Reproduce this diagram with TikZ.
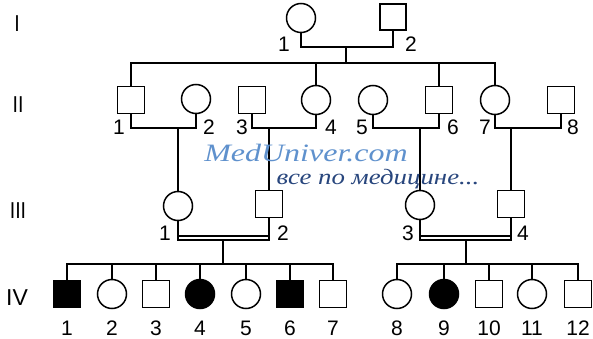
\documentclass[tikz,border=0pt]{standalone}
\usepackage{fontspec}
\usepackage{graphicx}
\setmainfont{Liberation Sans}
\newfontfamily\wmfont{Liberation Serif}
\definecolor{wmblue}{RGB}{95,145,205}
\definecolor{wmdark}{RGB}{40,70,125}
\begin{document}
\begin{tikzpicture}[x=1pt,y=-1pt,
  every path/.style={line width=1.5pt},
  male/.style={draw, rectangle, minimum size=27pt, inner sep=0pt, line width=1.5pt},
  female/.style={draw, circle, minimum size=29pt, inner sep=0pt, line width=1.5pt},
  aff/.style={fill=black},
  num/.style={inner sep=0pt, font=\fontsize{21}{21}\selectfont},
  gen/.style={inner sep=0pt, font=\fontsize{23}{23}\selectfont}]
\fill[white] (0,0) rectangle (593,339);
\useasboundingbox (0,0) rectangle (593,339);
% generation labels
\node[gen] (gI) at (17,24) {\scalebox{0.85}[1]{I}};
\node[gen] (gII) at (18,105) {\scalebox{0.85}[1]{II}};
\node[gen] (gIII) at (18,211) {\scalebox{0.85}[1]{III}};
\node[gen] (gIV) at (17,298) {IV};
% generation I
\node[female] (I1) at (301,18) {};
\node[male, minimum size=26pt] (I2) at (393,17) {};
\node[num] (lI1) at (284,44) {1};
\node[num] (lI2) at (411,44) {2};
% generation II
\node[male] (II1) at (131,100) {};
\node[female] (II2) at (196,99) {};
\node[male] (II3) at (252,100) {};
\node[female] (II4) at (316,100) {};
\node[female] (II5) at (373,100) {};
\node[male] (II6) at (439,100) {};
\node[female] (II7) at (495,100) {};
\node[male] (II8) at (561,100) {};
\node[num] (lII1) at (119,127) {1};
\node[num] (lII2) at (209,127) {2};
\node[num] (lII3) at (242,127) {3};
\node[num] (lII4) at (331,127) {4};
\node[num] (lII5) at (362,127) {5};
\node[num] (lII6) at (453,127) {6};
\node[num] (lII7) at (485,127) {7};
\node[num] (lII8) at (573,127) {8};
% generation III
\node[female] (III1) at (178,206) {};
\node[male] (III2) at (269,204) {};
\node[female] (III3) at (420,205) {};
\node[male] (III4) at (511,204) {};
\node[num] (lIII1) at (165,233) {1};
\node[num] (lIII2) at (283,233) {2};
\node[num] (lIII3) at (408,233) {3};
\node[num] (lIII4) at (523,233) {4};
% generation IV
\node[male, aff] (IV1) at (67,294) {};
\node[female] (IV2) at (112,294) {};
\node[male] (IV3) at (156,294) {};
\node[female, aff] (IV4) at (200,294) {};
\node[female] (IV5) at (246,294) {};
\node[male, aff] (IV6) at (290,294) {};
\node[male] (IV7) at (333,294) {};
\node[female] (IV8) at (397,294) {};
\node[female, aff] (IV9) at (444,294) {};
\node[male] (IV10) at (489,294) {};
\node[female] (IV11) at (532,294) {};
\node[male] (IV12) at (578,294) {};
\foreach \i/\x in {1/67,2/112,3/156,4/200,5/246,6/290,7/333,8/397,9/444,10/489,11/532,12/578}
  \node[num] (lIV\i) at (\x,328) {\i};
% connectors generation I
\coordinate (c1) at (346,47);
\coordinate (s2) at (346,63);
\draw (I1.south) |- (c1) -| (I2.south);
\draw (c1) -- (s2);
\draw (II1.north) -- (II1.north |- s2) -- (II7.north |- s2) -- (II7.north);
\draw (II4.north) -- (II4.north |- s2);
\draw (II6.north) -- (II6.north |- s2);
% couples generation II
\coordinate (c21) at (178,128);
\coordinate (c22) at (269,128);
\coordinate (c23) at (420,128);
\coordinate (c24) at (511,128);
\draw (II1.south) |- (c21) -| (II2.south);
\draw (c21) -- (III1.north);
\draw (II3.south) |- (c22) -| (II4.south);
\draw (c22) -- (III2.north);
\draw (II5.south) |- (c23) -| (II6.south);
\draw (c23) -- (III3.north);
\draw (II7.south) |- (c24) -| (II8.south);
\draw (c24) -- (III4.north);
% consanguineous couples generation III
\coordinate (yup) at (0,236);
\coordinate (d1) at (223,240);
\coordinate (d2) at (466,240);
\coordinate (s4L) at (223,264);
\coordinate (s4R) at (466,264);
\draw (III1.south) |- (d1) -| (III2.south);
\draw (III1.south |- yup) -- (III2.south |- yup);
\draw (III3.south) |- (d2) -| (III4.south);
\draw (III3.south |- yup) -- (III4.south |- yup);
\draw (d1) -- (s4L);
\draw (d2) -- (s4R);
% sibships generation IV
\draw (IV1.north) -- (IV1.north |- s4L) -- (IV7.north |- s4L) -- (IV7.north);
\foreach \k in {2,3,4,5,6}
  \draw (IV\k.north) -- (IV\k.north |- s4L);
\draw (IV8.north) -- (IV8.north |- s4R) -- (IV12.north |- s4R) -- (IV12.north);
\foreach \k in {9,10,11}
  \draw (IV\k.north) -- (IV\k.north |- s4R);
% watermark
\node[inner sep=0pt, text=wmblue, font=\wmfont\itshape\fontsize{25}{25}\selectfont] (wm1) at (306,153) {\scalebox{1.28}[1]{MedUniver.com}};
\node[inner sep=0pt, text=wmdark, font=\wmfont\itshape\fontsize{22}{22}\selectfont] (wm2) at (378,179) {\scalebox{1.22}[1]{все по медицине...}};
\end{tikzpicture}
\end{document}
